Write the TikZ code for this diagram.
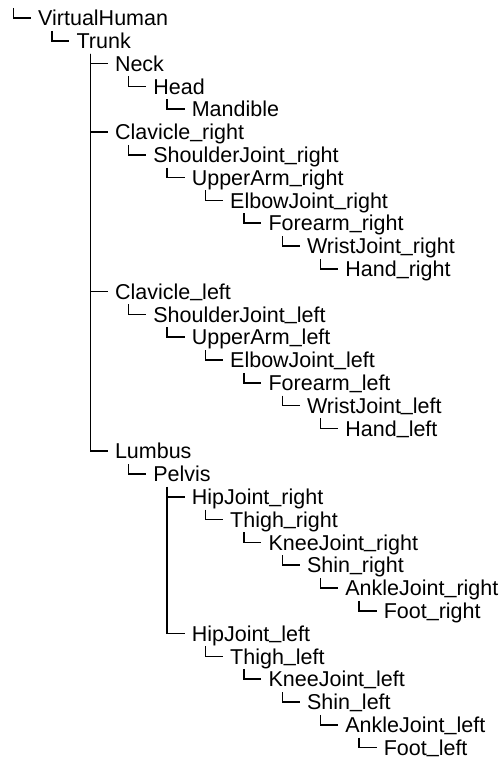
\documentclass[tikz,border=0pt]{standalone}
\usepackage{fontspec}
\setmainfont{Liberation Sans}
\begin{document}
\begin{tikzpicture}[x=1pt,y=-1pt,
  item/.style={anchor=base west,inner sep=0pt,font=\fontsize{21.5}{24}\selectfont},
  conn/.style={draw=black,line width=1.5pt}]
\useasboundingbox[fill=white] (0,0) rectangle (499,760);
% underscore sitting on the baseline
\newcommand\us{\raisebox{2.5pt}{\_}}
% rows: index / depth / name / label
\foreach \r/\l/\n/\t in {
  0/0/vh/VirtualHuman,
  1/1/trunk/Trunk,
  2/2/neck/Neck,
  3/3/head/Head,
  4/4/mand/Mandible,
  5/2/clr/Clavicle\us right,
  6/3/shr/ShoulderJoint\us right,
  7/4/uar/UpperArm\us right,
  8/5/elr/ElbowJoint\us right,
  9/6/far/Forearm\us right,
  10/7/wrr/WristJoint\us right,
  11/8/har/Hand\us right,
  12/2/cll/Clavicle\us left,
  13/3/shl/ShoulderJoint\us left,
  14/4/ual/UpperArm\us left,
  15/5/ell/ElbowJoint\us left,
  16/6/fal/Forearm\us left,
  17/7/wrl/WristJoint\us left,
  18/8/hal/Hand\us left,
  19/2/lumb/Lumbus,
  20/3/pelv/Pelvis,
  21/4/hipr/HipJoint\us right,
  22/5/thr/Thigh\us right,
  23/6/knr/KneeJoint\us right,
  24/7/sir/Shin\us right,
  25/8/anr/AnkleJoint\us right,
  26/9/ftr/Foot\us right,
  27/4/hipl/HipJoint\us left,
  28/5/thl/Thigh\us left,
  29/6/knl/KneeJoint\us left,
  30/7/sil/Shin\us left,
  31/8/anl/AnkleJoint\us left,
  32/9/ftl/Foot\us left}
  \node[item] (\n) at ({38+38.4*\l},{25.7+22.8*\r}) {\t};
% elbow connector: vertical from the first sibling down to the target row
\newcommand\elbow[2]{\draw[conn] ([xshift=-24.5pt,yshift=17.7pt]#1.base west) |- ([xshift=-7pt,yshift=7.7pt]#2.base west);}
\foreach \c in {vh,trunk,head,mand,shr,uar,elr,far,wrr,har,shl,ual,ell,fal,wrl,hal,pelv,
  thr,knr,sir,anr,ftr,thl,knl,sil,anl,ftl}
  {\elbow{\c}{\c}}
\foreach \c in {neck,clr,cll,lumb} {\elbow{neck}{\c}}
\foreach \c in {hipr,hipl} {\elbow{hipr}{\c}}
\end{tikzpicture}
\end{document}
